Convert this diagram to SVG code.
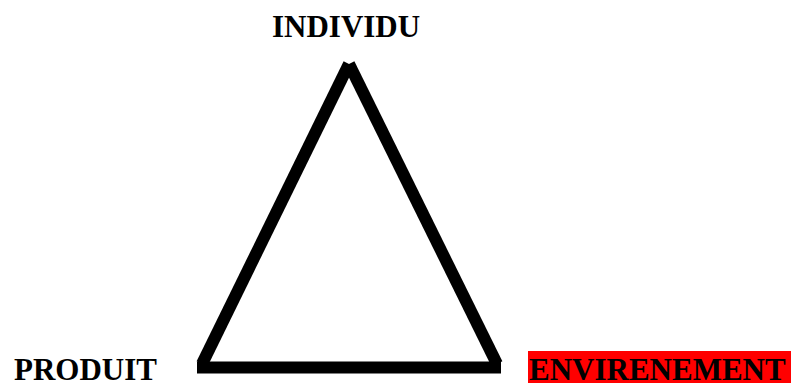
<svg xmlns="http://www.w3.org/2000/svg" width="791" height="383" viewBox="0 0 791 383">
<style>
.lbl{font-family:"Liberation Serif","Times New Roman",serif;font-weight:bold;font-size:31px;fill:#000}
.edge{stroke:#000;stroke-width:12;fill:none;stroke-linecap:butt}
</style>
<rect width="791" height="383" fill="#fff"/>
<g id="connectors">
<line class="edge" x1="349" y1="64" x2="202" y2="364"/>
<line class="edge" x1="349" y1="64" x2="497" y2="364"/>
<line class="edge" x1="197" y1="367.5" x2="501" y2="367.5"/>
</g>
<g id="individu"><text class="lbl" x="272" y="36.5">INDIVIDU</text></g>
<g id="produit"><text class="lbl" x="14" y="380">PRODUIT</text></g>
<g id="environnement">
<rect x="528" y="351" width="263" height="32" fill="#ff0000"/>
<text class="lbl" x="529" y="380">ENVIRENEMENT</text>
</g>
</svg>
